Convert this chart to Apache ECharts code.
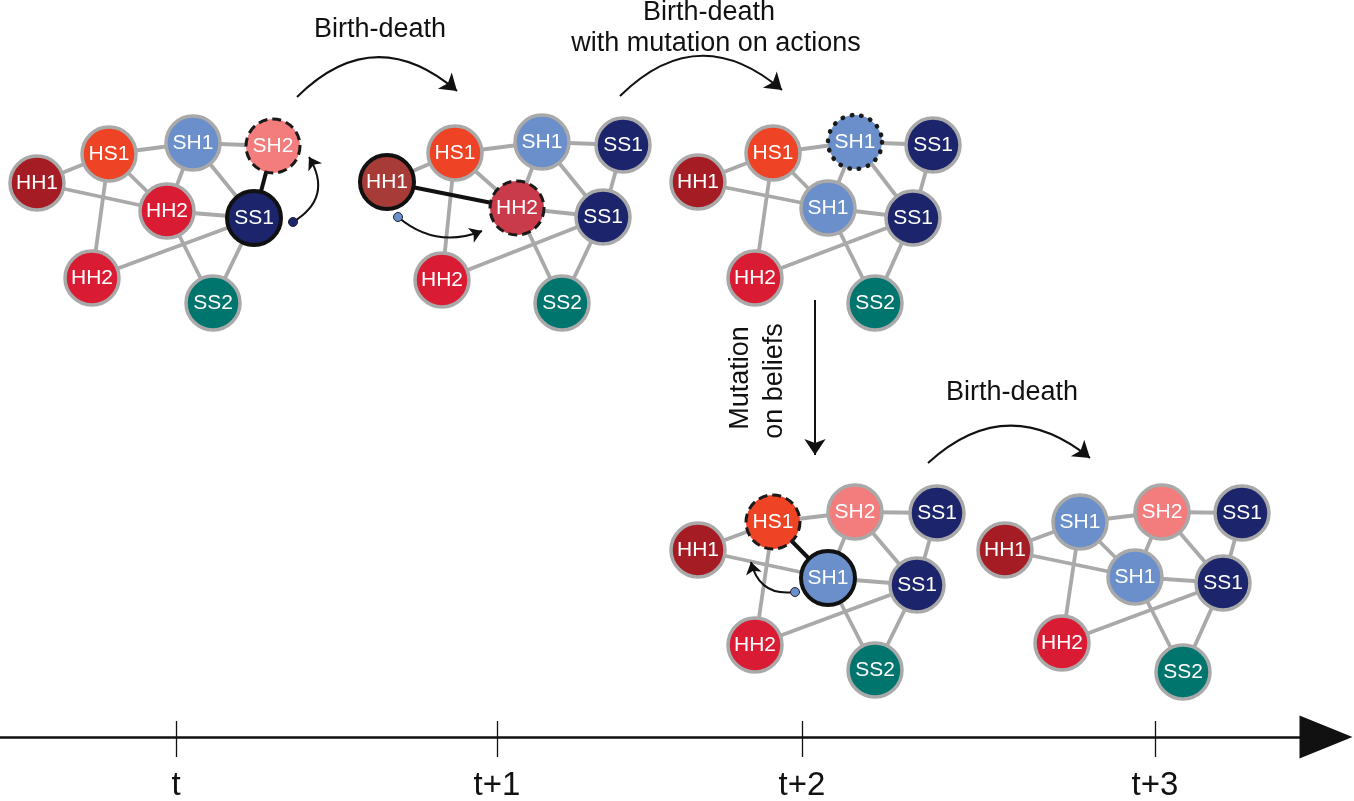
<!DOCTYPE html>
<html>
<head>
<meta charset="utf-8">
<script src="https://cdn.jsdelivr.net/npm/echarts@6/dist/echarts.min.js"></script>
<style>
  html, body { margin: 0; padding: 0; background: #fff; }
  #chart { width: 1354px; height: 801px; }
</style>
</head>
<body>
<div id="chart"></div>
<script>
// --- data -------------------------------------------------------------
// five snapshots of the same 8-slot network (slot order is the same everywhere)
var net1Labels = ['HH1', 'HS1', 'SH1', 'SH2', 'HH2', 'SS1', 'HH2', 'SS2'];
var net1X = [37, 109, 193, 273, 167, 254, 92, 213];
var net1Y = [183, 154, 143, 146, 211, 218, 278, 303];

var net2Labels = ['HH1', 'HS1', 'SH1', 'SS1', 'HH2', 'SS1', 'HH2', 'SS2'];
var net2X = [387, 455, 542, 623, 517, 603, 442, 562];
var net2Y = [182, 153, 142, 145, 208, 217, 280, 303];

var net3Labels = ['HH1', 'HS1', 'SH1', 'SS1', 'SH1', 'SS1', 'HH2', 'SS2'];
var net3X = [698, 773, 855, 933, 828, 913, 755, 875];
var net3Y = [182, 153, 142, 145, 208, 218, 278, 303];

var net4Labels = ['HH1', 'HS1', 'SH2', 'SS1', 'SH1', 'SS1', 'HH2', 'SS2'];
var net4X = [698, 773, 855, 937, 828, 917, 755, 875];
var net4Y = [550, 522, 512, 513, 578, 585, 645, 670];

var net5Labels = ['HH1', 'SH1', 'SH2', 'SS1', 'SH1', 'SS1', 'HH2', 'SS2'];
var net5X = [1005, 1080, 1162, 1242, 1135, 1223, 1062, 1183];
var net5Y = [550, 522, 512, 513, 577, 583, 643, 672];

// links between slots
var edgePairs = [[0, 1], [0, 4], [1, 2], [1, 4], [1, 6], [2, 3], [2, 4], [2, 5],
                 [3, 5], [4, 5], [4, 7], [6, 5], [5, 7]];

// time axis
var timeTicks = [176, 497, 802, 1155];
var timeLabels = ['t', 't+1', 't+2', 't+3'];
var timeEnd = 1300;

// step captions
var stepTexts = ['Birth-death', 'Birth-death', 'with mutation on actions', 'Birth-death'];
var stepTextX = [380, 709, 716, 1012];
var stepTextY = [30, 13, 44, 393];
var sideTexts = ['Mutation', 'on beliefs'];
var sideTextX = [741, 775];
var sideTextY = [378, 381];

// step arrows: start, end, bend
var stepArrowFrom = [[297, 97], [620, 96], [928, 463], [815, 300]];
var stepArrowTo = [[457, 91], [782, 90], [1090, 458], [815, 455]];
var stepArrowBend = [0.46, 0.46, 0.43, 0];

// copy arrows inside networks (from dot to new node)
var copyFrom = [[293, 222], [398, 217], [795, 592]];
var copyTo = [[309, 157], [482, 231], [751, 562]];
var copyBend = [-0.5, -0.3, 0.45];

// --- styles -----------------------------------------------------------
var kindColor = {
  HH1: '#a61c24', HS1: '#ee4324', SH1: '#6a8fca', SH2: '#f37c7c',
  HH2: '#d91c33', SS1: '#1c256b', SS2: '#00756e'
};
var grey = '#a9a9a9';
var nets = [
  { labels: net1Labels, x: net1X, y: net1Y, focus: 5, changed: 3, bold: [3, 5] },
  { labels: net2Labels, x: net2X, y: net2Y, focus: 0, changed: 4, bold: [0, 4],
    tint: { 0: '#a63b38', 4: '#c93a4b' } },
  { labels: net3Labels, x: net3X, y: net3Y, dotted: 2 },
  { labels: net4Labels, x: net4X, y: net4Y, focus: 4, changed: 1, bold: [1, 4] },
  { labels: net5Labels, x: net5X, y: net5Y }
];
var dotColors = ['#1c256b', '#6a8fca', '#6a8fca'];
var font = "'Liberation Sans', Arial, Helvetica, sans-serif";

// --- build series -----------------------------------------------------
var greyEdges = [], boldEdges = [], nodes = [];
nets.forEach(function (n) {
  edgePairs.forEach(function (p) {
    var e = { coords: [[n.x[p[0]], n.y[p[0]]], [n.x[p[1]], n.y[p[1]]]] };
    var isBold = n.bold && ((n.bold[0] === p[0] && n.bold[1] === p[1]) ||
                            (n.bold[0] === p[1] && n.bold[1] === p[0]));
    (isBold ? boldEdges : greyEdges).push(e);
  });
  n.labels.forEach(function (lab, i) {
    var st = { color: (n.tint && n.tint[i]) || kindColor[lab], borderColor: grey, borderWidth: 3.5, opacity: 1 };
    if (i === n.focus) { st.borderColor = '#111'; st.borderWidth = 4; }
    if (i === n.changed) { st.borderColor = '#1a1a1a'; st.borderWidth = 3; st.borderType = [9, 5]; }
    if (i === n.dotted) { st.borderColor = '#1a1a1a'; st.borderWidth = 4.5; st.borderType = [0.5, 9]; st.borderCap = 'round'; }
    nodes.push({ value: [n.x[i], n.y[i]], name: lab, itemStyle: st });
  });
});

var stepArrows = stepArrowFrom.map(function (f, i) {
  return { coords: [f, stepArrowTo[i]], lineStyle: { curveness: stepArrowBend[i] } };
});
var copyArrows = copyFrom.map(function (f, i) {
  return { coords: [f, copyTo[i]], lineStyle: { curveness: copyBend[i] } };
});
var dots = copyFrom.map(function (f, i) {
  return { value: f, itemStyle: { color: dotColors[i] } };
});

var textItems = stepTexts.map(function (t, i) {
  return { value: [stepTextX[i], stepTextY[i]], name: t };
});
var sideItems = sideTexts.map(function (t, i) {
  return { value: [sideTextX[i], sideTextY[i]], name: t };
});
var tickLines = timeTicks.map(function (x) {
  return { coords: [[x, 721], [x, 757]] };
});
var tickLabelItems = timeTicks.map(function (x, i) {
  return { value: [x, 786], name: timeLabels[i] };
});

var myChart = echarts.init(document.getElementById('chart'), null, { renderer: 'canvas' });

var textStyleBase = { show: true, position: 'inside', formatter: '{b}', fontFamily: font };

var option = {
  animation: false,
  backgroundColor: '#ffffff',
  grid: { left: 0, right: 0, top: 0, bottom: 0 },
  xAxis: { type: 'value', min: 0, max: 1354, show: false },
  yAxis: { type: 'value', min: 0, max: 801, inverse: true, show: false },
  series: [
    {
      type: 'lines', coordinateSystem: 'cartesian2d', silent: true, z: 1,
      lineStyle: { color: grey, width: 3.8, opacity: 1 },
      data: greyEdges
    },
    {
      type: 'lines', coordinateSystem: 'cartesian2d', silent: true, z: 2,
      lineStyle: { color: '#111', width: 4, opacity: 1 },
      data: boldEdges
    },
    {
      type: 'scatter', silent: true, z: 3,
      symbol: 'circle', symbolSize: 54,
      itemStyle: { opacity: 1 },
      label: Object.assign({}, textStyleBase, { color: '#fff', fontSize: 21 }),
      data: nodes
    },
    {
      // step arrows between snapshots
      type: 'lines', coordinateSystem: 'cartesian2d', silent: true, z: 4,
      symbol: ['none', 'arrow'], symbolSize: 16,
      lineStyle: { color: '#111', width: 2, opacity: 1 },
      data: stepArrows
    },
    {
      // copy arrows inside a network
      type: 'lines', coordinateSystem: 'cartesian2d', silent: true, z: 4,
      symbol: ['none', 'arrow'], symbolSize: 12,
      lineStyle: { color: '#111', width: 2, opacity: 1 },
      data: copyArrows
    },
    {
      type: 'scatter', silent: true, z: 5, symbol: 'circle', symbolSize: 9,
      itemStyle: { borderColor: '#223', borderWidth: 1, opacity: 1 },
      data: dots
    },
    {
      // captions
      type: 'scatter', silent: true, z: 6, symbolSize: 0,
      itemStyle: { opacity: 1 },
      label: Object.assign({}, textStyleBase, { color: '#111', fontSize: 27 }),
      data: textItems
    },
    {
      type: 'scatter', silent: true, z: 6, symbolSize: 0,
      itemStyle: { opacity: 1 },
      label: Object.assign({}, textStyleBase, { color: '#111', fontSize: 27, rotate: 90 }),
      data: sideItems
    },
    {
      // time axis line
      type: 'lines', coordinateSystem: 'cartesian2d', silent: true, z: 4,
      lineStyle: { color: '#111', width: 2.5, opacity: 1 },
      data: [{ coords: [[0, 737], [timeEnd, 737]] }]
    },
    {
      type: 'lines', coordinateSystem: 'cartesian2d', silent: true, z: 4,
      lineStyle: { color: '#111', width: 1.3, opacity: 1 },
      data: tickLines
    },
    {
      // arrow head of the time axis
      type: 'scatter', silent: true, z: 5,
      symbol: 'triangle', symbolSize: [43, 53], symbolRotate: -90,
      itemStyle: { color: '#111', opacity: 1 },
      data: [[timeEnd + 26, 737]]
    },
    {
      type: 'scatter', silent: true, z: 6, symbolSize: 0,
      itemStyle: { opacity: 1 },
      label: Object.assign({}, textStyleBase, { color: '#111', fontSize: 33 }),
      data: tickLabelItems
    }
  ]
};

myChart.setOption(option);
</script>
</body>
</html>
